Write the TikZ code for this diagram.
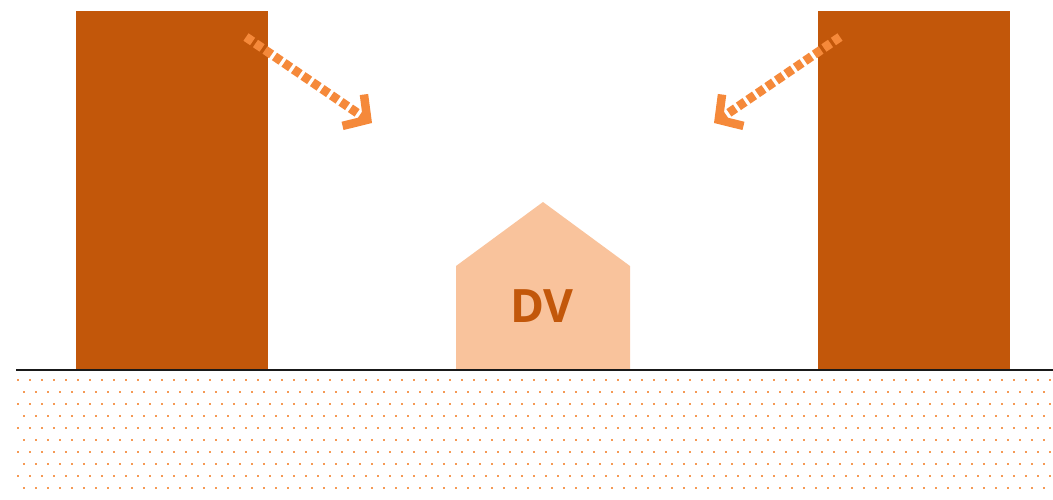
\documentclass[tikz,border=0pt]{standalone}
\usepackage{fontspec}
\newfontfamily\dvfont{Open Sans}
\usetikzlibrary{arrows.meta}
\definecolor{bldg}{HTML}{C2570A}
\definecolor{arr}{HTML}{F5893A}
\definecolor{house}{HTML}{F9C39C}
\definecolor{dotc}{HTML}{F59A55}
\tikzset{
  building/.style={fill=bldg, draw=none},
  windarrow/.style={draw=arr, line width=9pt, dash pattern=on 8pt off 3.5pt,
    -{Straight Barb[length=17pt, width=38pt, line width=8.5pt, sharp]}},
  grounddot/.style={fill=dotc, draw=none},
}
\begin{document}
\begin{tikzpicture}[x=1pt,y=-1pt]
\useasboundingbox (0,0) rectangle (1053,499);
% buildings
\fill[building] (76,11) rectangle (268,370);
\fill[building] (818,11) rectangle (1010,370);
% ground dots
\foreach \r in {0,...,9}{
  \pgfmathsetmacro{\yy}{380+12*\r}
  \pgfmathsetmacro{\xs}{ifthenelse(mod(\r,2)==0,18,24)}
  \foreach \c in {0,...,86}{
    \fill[grounddot] ({\xs+12*\c-1.1},{\yy-0.9}) rectangle ++(2.4,1.8);
  }
}
% house
\fill[house] (456,370) -- (456,266) -- (543,202) -- (630,266) -- (630,370) -- cycle;
\node[font=\dvfont\bfseries\fontsize{46}{46}\selectfont, text=bldg, inner sep=0pt] (dv) at (542,306) {DV};
% ground line
\draw[line width=1.8pt, black!90] (16,370) -- (1053,370);
% arrows
\coordinate (la) at (246,37);
\coordinate (lt) at (372,123);
\coordinate (ra) at (840,37);
\coordinate (rt) at (714,123);
\draw[windarrow] (la) -- (lt);
\draw[windarrow] (ra) -- (rt);
\end{tikzpicture}
\end{document}
